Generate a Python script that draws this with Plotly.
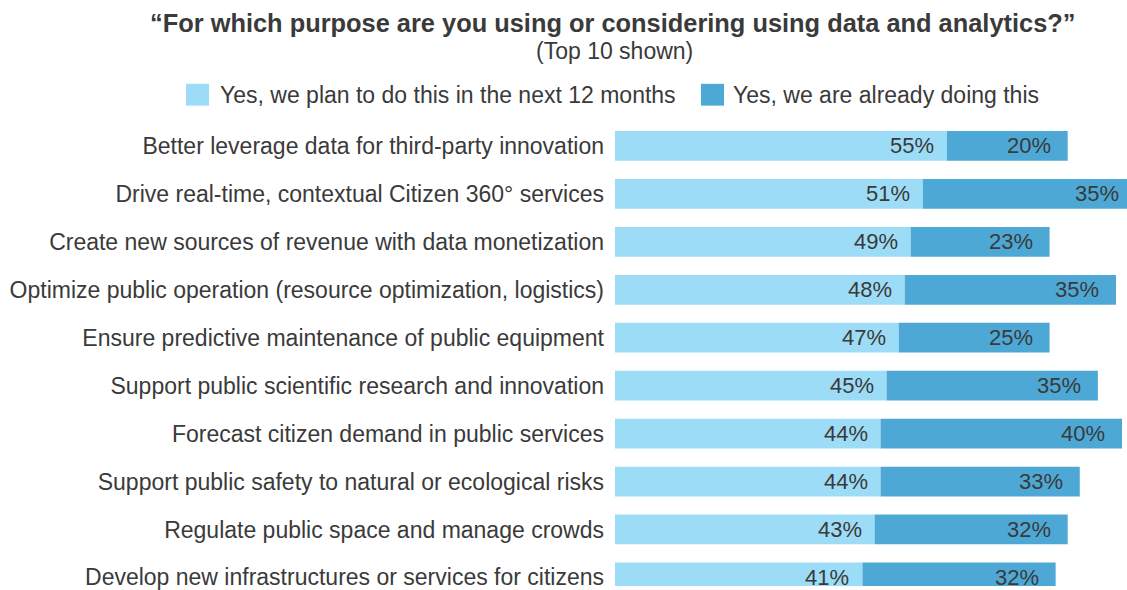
import plotly.graph_objects as go

# Survey responses, top 10 purposes (percent of respondents)
categories = [
    "Better leverage data for third-party innovation",
    "Drive real-time, contextual Citizen 360° services",
    "Create new sources of revenue with data monetization",
    "Optimize public operation (resource optimization, logistics)",
    "Ensure predictive maintenance of public equipment",
    "Support public scientific research and innovation",
    "Forecast citizen demand in public services",
    "Support public safety to natural or ecological risks",
    "Regulate public space and manage crowds",
    "Develop new infrastructures or services for citizens",
]
plan_next_12m = [55, 51, 49, 48, 47, 45, 44, 44, 43, 41]
already_doing = [20, 35, 23, 35, 25, 35, 40, 33, 32, 32]

series_names = ["Yes, we plan to do this in the next 12 months",
                "Yes, we are already doing this"]

LIGHT = "#9CDCF6"
DARK = "#4DA8D5"
TEXT = "#3A3A3A"
FONT = "Liberation Sans, Arial, sans-serif"

W, H = 1127, 590
LEFT, TOP = 615, 122
PLOT_W, PLOT_H = W - LEFT, H - TOP
PX_PER_PCT = 6.036
ROW_PX = 48.35


def px_x(px):
    """Figure pixel x -> plot-area paper coordinate."""
    return (px - LEFT) / PLOT_W


def px_y(py):
    """Figure pixel y (from top) -> plot-area paper coordinate."""
    return 1 - (py - TOP) / PLOT_H


fig = go.Figure()
fig.add_trace(go.Bar(y=categories, x=plan_next_12m, orientation="h",
                     marker=dict(color=LIGHT, line=dict(width=0)),
                     name=series_names[0], showlegend=False, hoverinfo="x+y"))
fig.add_trace(go.Bar(y=categories, x=already_doing, orientation="h",
                     base=plan_next_12m,
                     marker=dict(color=DARK, line=dict(width=0)),
                     name=series_names[1], showlegend=False, hoverinfo="x+y"))

x_max = PLOT_W / PX_PER_PCT
annotations = []
# value labels, right-aligned just inside each segment end
for cat, a, b in zip(categories, plan_next_12m, already_doing):
    annotations.append(dict(x=a, y=cat, xref="x", yref="y", text=f"{a}%",
                            showarrow=False, xanchor="right", xshift=-11,
                            font=dict(family=FONT, size=22, color=TEXT)))
    end = a + b
    if end <= x_max:
        annotations.append(dict(x=end, y=cat, xref="x", yref="y", text=f"{b}%",
                                showarrow=False, xanchor="right", xshift=-15,
                                font=dict(family=FONT, size=22, color=TEXT)))
    else:
        # segment runs past the right edge: pin label near the edge
        annotations.append(dict(x=x_max, y=cat, xref="x", yref="y", text=f"{b}%",
                                showarrow=False, xanchor="right", xshift=-6,
                                font=dict(family=FONT, size=22, color=TEXT)))

# title and subtitle
annotations.append(dict(x=px_x(613), y=px_y(22), xref="paper", yref="paper",
                        text="<b>“For which purpose are you using or considering using data and analytics?”</b>",
                        showarrow=False, xanchor="center", yanchor="middle",
                        font=dict(family=FONT, size=25.4, color=TEXT)))
annotations.append(dict(x=px_x(614), y=px_y(50), xref="paper", yref="paper",
                        text="(Top 10 shown)", showarrow=False,
                        xanchor="center", yanchor="middle",
                        font=dict(family=FONT, size=23, color=TEXT)))

# legend drawn as swatches + labels
shapes = []
legend_items = [(186, 218, LIGHT, series_names[0]), (701, 731, DARK, series_names[1])]
for sx, tx, col, label in legend_items:
    shapes.append(dict(type="rect", xref="paper", yref="paper",
                       x0=px_x(sx), x1=px_x(sx + 23),
                       y0=px_y(105.5), y1=px_y(83.5),
                       fillcolor=col, line=dict(width=0)))
    annotations.append(dict(x=px_x(tx), y=px_y(95), xref="paper", yref="paper",
                            text=label, showarrow=False, xanchor="left",
                            yanchor="middle",
                            font=dict(family=FONT, size=23, color=TEXT)))

rows_visible = PLOT_H / ROW_PX

fig.update_layout(
    width=W, height=H,
    margin=dict(l=LEFT, r=0, t=TOP, b=0, pad=0),
    barmode="overlay",
    bargap=0.38,
    plot_bgcolor="white", paper_bgcolor="white",
    font=dict(family=FONT, size=23, color=TEXT),
    xaxis=dict(range=[0, x_max], visible=False, fixedrange=True),
    yaxis=dict(range=[-0.5 + rows_visible, -0.5], showgrid=False, zeroline=False,
               showline=False, ticks="", ticklabelstandoff=10,
               tickfont=dict(family=FONT, size=23, color=TEXT), fixedrange=True),
    annotations=annotations,
    shapes=shapes,
    showlegend=False,
)

fig.write_html("out.html")
